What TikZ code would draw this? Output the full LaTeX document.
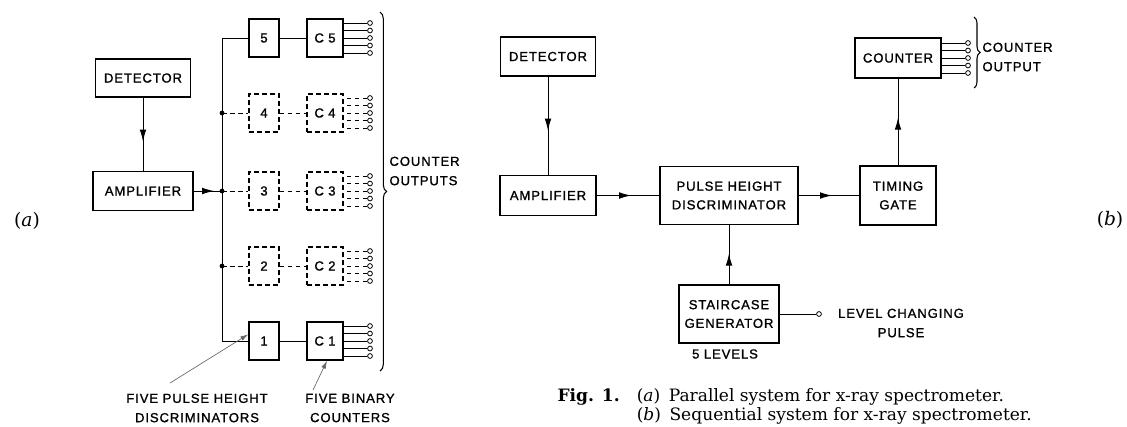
\documentclass[tikz,border=0pt]{standalone}
\usepackage{fontspec}
\setmainfont{DejaVu Serif}
\newfontfamily\lblfont[LetterSpace=7,FakeBold=1.2]{Liberation Sans}
\usetikzlibrary{arrows.meta,decorations.markings,decorations.pathreplacing}

\tikzset{every picture/.style={line width=0.75pt}}
\tikzset{
	blk/.style={draw,line width=1.1pt,inner sep=0pt,align=center,font=\lblfont\fontsize{9.8}{14}\selectfont},
	txt/.style={inner sep=0pt,align=center,font=\lblfont\fontsize{9.8}{14.5}\selectfont},
	dsh/.style={dash pattern=on 3.5pt off 2.5pt},
	term/.style={circle,draw,fill=white,inner sep=0pt,minimum size=3.6pt,line width=0.6pt},
	junc/.style={circle,fill,inner sep=0pt,minimum size=3.6pt},
	midarrow/.style={postaction={decorate},decoration={markings,mark=at position #1 with {\arrow{Latex[length=9pt,width=5pt]}}}},
	midarrow/.default=0.55,
	pointer/.style={line width=0.5pt,black!60,-{Latex[length=6pt,width=3.5pt]}},
	obrace/.style={decorate,decoration={brace,amplitude=#1},line width=0.8pt},
}

\begin{document}
\begin{tikzpicture}[x=0.75pt,y=0.75pt,yscale=-1,xscale=1]
	\useasboundingbox (0,0) rectangle (1127,426);

	%%% (a) parallel system
	%Shape: Rectangle
	\node[blk,minimum width=71.25pt,minimum height=28.5pt] (detA) at (143,78) {DETECTOR};
	%Shape: Rectangle
	\node[blk,minimum width=75pt,minimum height=29.25pt] (ampA) at (143,191) {AMPLIFIER};
	%Straight Lines
	\draw[midarrow=0.6] (detA) -- (ampA);

	% bus
	\coordinate (bt) at (222,38);
	\coordinate (bb) at (222,341);
	\coordinate (j4) at (222,113);
	\coordinate (j3) at (222,191);
	\coordinate (j2) at (222,266);

	% discriminators, counters and their outputs
	\foreach \r/\yy/\ls in {5/38/solid,4/113/dsh,3/191/dsh,2/266/dsh,1/341/solid}{
		\node[blk,\ls,minimum width=22.5pt,minimum height=28.5pt] (d\r) at (264,\yy) {\r};
		\node[blk,\ls,minimum width=27pt,minimum height=28.5pt] (c\r) at (325,\yy) {C\,\,\r};
		\draw[\ls] (d\r) -- (c\r);
		\foreach \k in {1,...,5}{
			\node[term] (o\r\k) at (370,{\yy+7.5*(\k-3)}) {};
			\draw[\ls] (o\r\k) -- (o\r\k -| c\r.east);
		}
	}

	%Straight Lines
	\draw (d5) -- (bt) -- (bb) -- (d1);
	\draw[midarrow=0.72] (ampA) -- (j3);
	\foreach \r in {4,3,2}{
		\draw[dsh] (j\r) -- (d\r);
		\node[junc] at (j\r) {};
	}

	%Shape: Brace
	\draw[obrace=5pt] (380,12) -- (380,371);
	% Text Node
	\node[txt,align=left,anchor=west] (outA) at (389,171) {COUNTER\\OUTPUTS};
	% Text Node
	\node[txt] (lblD) at (197,408) {FIVE PULSE HEIGHT\\DISCRIMINATORS};
	% Text Node
	\node[txt] (lblC) at (350,408) {FIVE BINARY\\COUNTERS};
	\coordinate (p1) at (170,383);
	\coordinate (p2) at (313,390);
	\draw[pointer] (p1) -- ([yshift=-5pt]d1.west);
	\draw[pointer] (p2) -- ([xshift=1.5pt]c1.south);
	% Text Node
	\node[font=\fontsize{14}{16}\selectfont] (tagA) at (27,221) {(\textit{a})};

	%%% (b) sequential system
	%Shape: Rectangle
	\node[blk,minimum width=71.25pt,minimum height=29.25pt] (detB) at (548,56.5) {DETECTOR};
	\node[blk,minimum width=72pt,minimum height=30pt] (ampB) at (548,195.5) {AMPLIFIER};
	\node[blk,minimum width=103.5pt,minimum height=43.5pt] (phd) at (729,195.5) {PULSE HEIGHT\\DISCRIMINATOR};
	\node[blk,minimum width=57pt,minimum height=44.25pt] (gate) at (898,195.5) {TIMING\\GATE};
	\node[blk,minimum width=64.5pt,minimum height=30pt] (cnt) at (898,58) {COUNTER};
	\node[blk,minimum width=75pt,minimum height=43.5pt] (stair) at (729,314) {STAIRCASE\\GENERATOR};
	% Text Node
	\node[txt] (lvls) at (725,354) {5 LEVELS};

	%Straight Lines
	\draw[midarrow] (detB) -- (ampB);
	\draw[midarrow] (ampB) -- (phd);
	\draw[midarrow] (phd) -- (gate);
	\draw[midarrow] (gate) -- (cnt);
	\draw[midarrow=0.52] (stair) -- (phd);

	\node[term] (lvlin) at (819,314) {};
	\draw (stair) -- (lvlin);
	% Text Node
	\node[txt] (lvltxt) at (901,323) {LEVEL CHANGING\\PULSE};

	\foreach \k in {1,...,5}{
		\node[term] (q\k) at (968,{58+7.5*(\k-3)}) {};
		\draw (q\k) -- (q\k -| cnt.east);
	}
	%Shape: Brace
	\draw[obrace=4.5pt] (974,17) -- (974,88);
	% Text Node
	\node[txt,align=left,anchor=west] (outB) at (982,57) {COUNTER\\OUTPUT};
	% Text Node
	\node[font=\fontsize{14}{16}\selectfont] (tagB) at (1110,220) {(\textit{b})};

	%%% caption
	\node[anchor=base west,inner sep=0pt,font=\fontsize{12.8}{18}\selectfont] (capA) at (557,401) {\textbf{Fig. 1.}\quad(\textit{a})\enspace Parallel system for x-ray spectrometer.};
	\node[anchor=base west,inner sep=0pt,font=\fontsize{12.8}{18}\selectfont] (capB) at (557,420) {\hphantom{\textbf{Fig. 1.}\quad}(\textit{b})\enspace Sequential system for x-ray spectrometer.};

\end{tikzpicture}
\end{document}
